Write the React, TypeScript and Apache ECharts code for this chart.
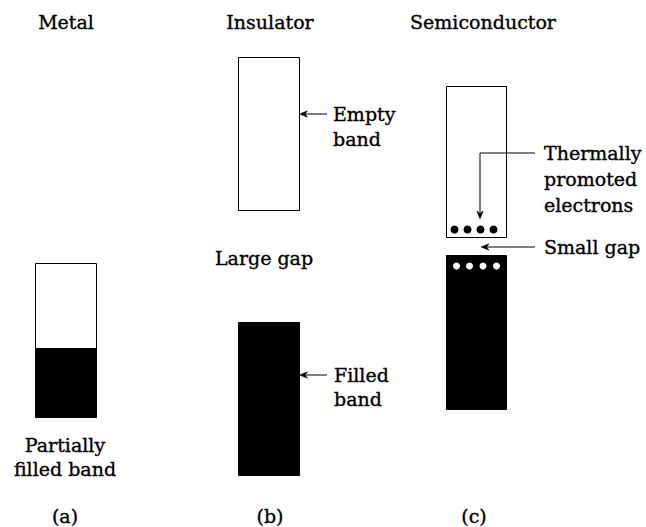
import React, { useEffect, useRef } from "react";
import * as echarts from "echarts";

const W = 646;
const H = 527;

// Band boxes: [x0, x1, y0, y1, filled(1)/empty(0)]
const metalBands = [
  [35, 96, 263, 348, 0],
  [35, 96, 348, 417, 1],
];
const insulatorBands = [
  [238, 299, 57, 210, 0],
  [238, 299, 322, 475, 1],
];
const semiconductorBands = [
  [446, 506, 86, 237, 0],
  [446, 506, 255, 409, 1],
];

// Electrons (black, promoted) and holes (white) in the semiconductor
const promotedElectrons = [
  [454.5, 229.5],
  [467.5, 229.5],
  [480.5, 229.5],
  [493.5, 229.5],
];
const holes = [
  [456.5, 266],
  [469.5, 266],
  [483, 266],
  [496.5, 266],
];

// Arrows: polyline points, last point is the arrow tip
const arrows = [
  [[327, 114], [299.5, 114]],
  [[327, 375], [299.5, 375]],
  [[535, 153], [480, 153], [480, 219]],
  [[535, 247], [481, 247]],
];

// Centered labels: [text, x, y]
const centeredLabels: [string, number, number][] = [
  ["Metal", 66, 22],
  ["Insulator", 270, 22],
  ["Semiconductor", 483, 22],
  ["Large gap", 264, 258],
  ["Partially", 65, 445],
  ["filled band", 65, 469],
  ["(a)", 65, 516],
  ["(b)", 270, 516],
  ["(c)", 474, 516],
];

// Left-aligned labels: [text, x, y]
const sideLabels: [string, number, number][] = [
  ["Empty", 333, 114],
  ["band", 333, 139],
  ["Filled", 334, 375],
  ["band", 334, 399],
  ["Thermally", 544, 153],
  ["promoted", 544, 179],
  ["electrons", 544, 205],
  ["Small gap", 544, 247],
];

const FONT = '"DejaVu Serif", serif';

export default function App() {
  const ref = useRef<HTMLDivElement>(null);
  useEffect(() => {
    if (!ref.current) return;
    const chart = echarts.init(ref.current, undefined, { renderer: "svg" });
    const bands = [...metalBands, ...insulatorBands, ...semiconductorBands];

    const textSeries = (labels: [string, number, number][], align: string) => ({
      type: "custom",
      silent: true,
      z: 5,
      data: labels.map((l) => [l[1], l[2]]),
      renderItem: (params: any, api: any) => {
        const p = api.coord([api.value(0), api.value(1)]);
        return {
          type: "text",
          x: p[0],
          y: p[1],
          style: {
            text: labels[params.dataIndex][0],
            fill: "#000",
            stroke: "#000",
            lineWidth: 0.35,
            fontSize: 19,
            fontFamily: FONT,
            align,
            verticalAlign: "middle",
          },
        };
      },
    });

    chart.setOption({
      animation: false,
      backgroundColor: "#fff",
      grid: { left: 0, right: 0, top: 0, bottom: 0 },
      xAxis: { type: "value", min: 0, max: W, show: false },
      yAxis: { type: "value", min: 0, max: H, inverse: true, show: false },
      series: [
        {
          type: "custom",
          silent: true,
          z: 1,
          data: bands,
          renderItem: (params: any, api: any) => {
            const p0 = api.coord([api.value(0), api.value(2)]);
            const p1 = api.coord([api.value(1), api.value(3)]);
            const filled = api.value(4) === 1;
            return {
              type: "rect",
              shape: {
                x: Math.round(p0[0]) + 0.5,
                y: Math.round(p0[1]) + 0.5,
                width: Math.round(p1[0] - p0[0]),
                height: Math.round(p1[1] - p0[1]),
              },
              style: { fill: filled ? "#000" : "#fff", stroke: "#000", lineWidth: 1 },
            };
          },
        },
        {
          type: "scatter",
          silent: true,
          z: 3,
          symbol: "circle",
          symbolSize: 8,
          itemStyle: { color: "#000", opacity: 1 },
          data: promotedElectrons,
        },
        {
          type: "scatter",
          silent: true,
          z: 3,
          symbol: "circle",
          symbolSize: 7,
          itemStyle: { color: "#fff", opacity: 1 },
          data: holes,
        },
        {
          type: "custom",
          silent: true,
          z: 4,
          data: arrows.map((a, i) => [a[0][0], a[0][1], i]),
          renderItem: (params: any, api: any) => {
            const pts = arrows[params.dataIndex].map((p) => api.coord(p));
            const tip = pts[pts.length - 1];
            const prev = pts[pts.length - 2];
            const dx = tip[0] - prev[0];
            const dy = tip[1] - prev[1];
            const len = Math.sqrt(dx * dx + dy * dy) || 1;
            const ux = dx / len;
            const uy = dy / len;
            const nx = -uy;
            const ny = ux;
            const L = 8;
            const Wd = 3.2;
            const back = [tip[0] - ux * L, tip[1] - uy * L];
            const notch = [tip[0] - ux * L * 0.7, tip[1] - uy * L * 0.7];
            const lineEnd = [tip[0] - ux * 4, tip[1] - uy * 4];
            const linePts = pts.slice(0, -1).concat([lineEnd]);
            return {
              type: "group",
              children: [
                {
                  type: "polyline",
                  shape: { points: linePts },
                  style: { stroke: "#000", lineWidth: 1, fill: null },
                },
                {
                  type: "polygon",
                  shape: {
                    points: [
                      tip,
                      [back[0] + nx * Wd, back[1] + ny * Wd],
                      notch,
                      [back[0] - nx * Wd, back[1] - ny * Wd],
                    ],
                  },
                  style: { fill: "#000", stroke: "#000", lineWidth: 0.5 },
                },
              ],
            };
          },
        },
        textSeries(centeredLabels, "center"),
        textSeries(sideLabels, "left"),
      ],
    });
    return () => chart.dispose();
  }, []);
  return (
    <div
      ref={ref}
      style={{ position: "fixed", left: 0, top: 0, width: W, height: H, background: "#fff" }}
    />
  );
}
